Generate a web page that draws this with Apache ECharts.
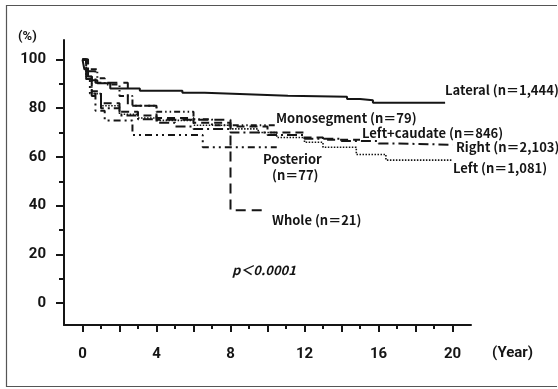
<!DOCTYPE html>
<html>
<head>
<meta charset="utf-8">
<script src="https://cdn.jsdelivr.net/npm/echarts@6/dist/echarts.min.js"></script>
<style>
  html, body { margin: 0; padding: 0; background: #fff; }
  #chart { width: 558px; height: 389px; }
</style>
</head>
<body>
<div id="chart"></div>
<script>
// Survival after hepatectomy by resection type (Kaplan-Meier, step curves)
const yearTicks = [0, 4, 8, 12, 16, 20];
const pctTicks = [0, 20, 40, 60, 80, 100];

const lateral = [[0,100],[0.1,96],[0.3,93],[0.5,91.5],[0.8,90.2],[1.5,88.1],[3.1,87.2],[5.4,86.3],[6.6,85.8],[8.5,85.1],[11.1,84.7],[14.3,83.8],[15.0,83.3],[15.7,82.2],[19.6,82.2]];
const monosegment = [[0,100],[0.3,96],[0.8,92.3],[1.2,89.7],[2,85],[2.7,81],[4,78.5],[6,75.5],[7,73],[10.5,73]];
const leftCaudate = [[0,100],[0.2,93],[0.5,87],[1,82],[2,78.5],[3,77],[4,76],[6,74],[8,72.5],[10,70],[12,68],[13,67],[15,67]];
const right = [[0,100],[0.2,92],[0.5,85],[1,80],[2,77],[3,75.5],[4,74],[5,72.5],[6,71.5],[8,70],[10,69],[12,67.5],[14,66.5],[16,65.5],[17,65],[20,65]];
const left = [[0,100],[0.2,93],[0.5,86],[1,81],[2,77.5],[3,76],[4,75],[6,73],[8,71.5],[9.5,70],[10.5,68],[12,66],[13,64],[14.8,61],[16.4,58.7],[20,58.7]];
const posterior = [[0,100],[0.2,92],[0.4,86],[0.7,79],[1.2,75],[2.7,69],[6.5,64],[10.5,64]];
const whole = [[0,100],[0.3,95.2],[0.7,90.5],[2.45,81],[4,75.3],[8.0,38.1],[9.7,38.1]];

const INK = '#151515';
const FONT = '"Noto Sans CJK JP", "Noto Sans", sans-serif';
const NUM_FONT = 'Roboto, "Liberation Sans", sans-serif';
const TAG_FONT = 'bold 13px ' + FONT;

function curve(name, data, type, width) {
  return {
    name, type: 'line', data, step: 'end', showSymbol: false, silent: true,
    xAxisIndex: 0, yAxisIndex: 0,
    lineStyle: { color: INK, width: width || 2, type: type, cap: 'butt' }
  };
}

function tag(text, left, top) {
  return { type: 'text', left, top, silent: true, style: { text, font: TAG_FONT, fill: INK } };
}

const chart = echarts.init(document.getElementById('chart'), null, { renderer: 'canvas' });

const labelStyle = { color: INK, fontFamily: NUM_FONT, fontWeight: 'bold', fontSize: 15 };

chart.setOption({
  animation: false,
  backgroundColor: '#fff',
  grid: { left: 64, right: 87, top: 40, bottom: 64, containLabel: false },
  xAxis: [
    {
      type: 'value', min: -1, max: 21, position: 'bottom', offset: 0,
      axisLine: { show: true, onZero: false, lineStyle: { color: INK, width: 2 } },
      splitLine: { show: false },
      axisTick: { show: true, customValues: [0,2,4,6,8,10,12,14,16,18,20], length: 7, lineStyle: { color: INK, width: 2 } },
      axisLabel: Object.assign({ customValues: yearTicks, margin: 22 }, labelStyle)
    },
    {
      type: 'value', min: -1, max: 21, position: 'bottom', offset: 0,
      axisLine: { show: false, onZero: false },
      splitLine: { show: false },
      axisTick: { show: true, customValues: [1,3,5,7,9,11,13,15,17,19], length: 4, lineStyle: { color: INK, width: 2 } },
      axisLabel: { show: false }
    }
  ],
  yAxis: [
    {
      type: 'value', min: -9, max: 108, position: 'left', offset: 0,
      axisLine: { show: true, onZero: false, lineStyle: { color: INK, width: 2 } },
      splitLine: { show: false },
      axisTick: { show: true, customValues: pctTicks, length: 8, lineStyle: { color: INK, width: 2 } },
      axisLabel: Object.assign({ customValues: pctTicks, margin: 18 }, labelStyle)
    },
    {
      type: 'value', min: -9, max: 108, position: 'left', offset: 0,
      axisLine: { show: false, onZero: false },
      splitLine: { show: false },
      axisTick: { show: true, customValues: [10,30,50,70,90], length: 5, lineStyle: { color: INK, width: 2 } },
      axisLabel: { show: false }
    }
  ],
  series: [
    curve('Lateral', lateral, 'solid', 2),
    curve('Monosegment', monosegment, [6,3,1.5,3,1.5,3]),
    curve('Left+caudate', leftCaudate, [8,5]),
    curve('Right', right, [10,4,2,4]),
    curve('Left', left, [1.5,1.5], 1.6),
    curve('Posterior', posterior, [7,4,2,4,2,4]),
    curve('Whole', whole, [10,6])
  ],
  graphic: [
    { type: 'polyline', silent: true, shape: { points: [[557,5.5],[6.5,5.5],[6.5,386.5],[557,386.5]] }, style: { stroke: '#555', lineWidth: 1.2, fill: null } },
    { type: 'text', left: 18, top: 30, style: { text: '(%)', font: 'bold 13px ' + NUM_FONT, fill: INK } },
    { type: 'text', left: 492, top: 346, style: { text: '(Year)', font: 'bold 15px ' + NUM_FONT, fill: INK } },
    tag('Lateral (n＝1,444)', 445, 84),
    tag('Monosegment (n＝79)', 276, 112),
    tag('Left+caudate (n＝846)', 362, 127),
    tag('Right (n＝2,103)', 456, 141),
    tag('Left (n＝1,081)', 453, 162),
    tag('Posterior', 263, 153),
    tag('(n＝77)', 272, 169),
    tag('Whole (n＝21)', 272, 214),
    { type: 'text', left: 232, top: 264, style: { text: 'p＜0.0001', font: 'italic bold 13px ' + FONT, fill: INK } }
  ]
});
</script>
</body>
</html>
